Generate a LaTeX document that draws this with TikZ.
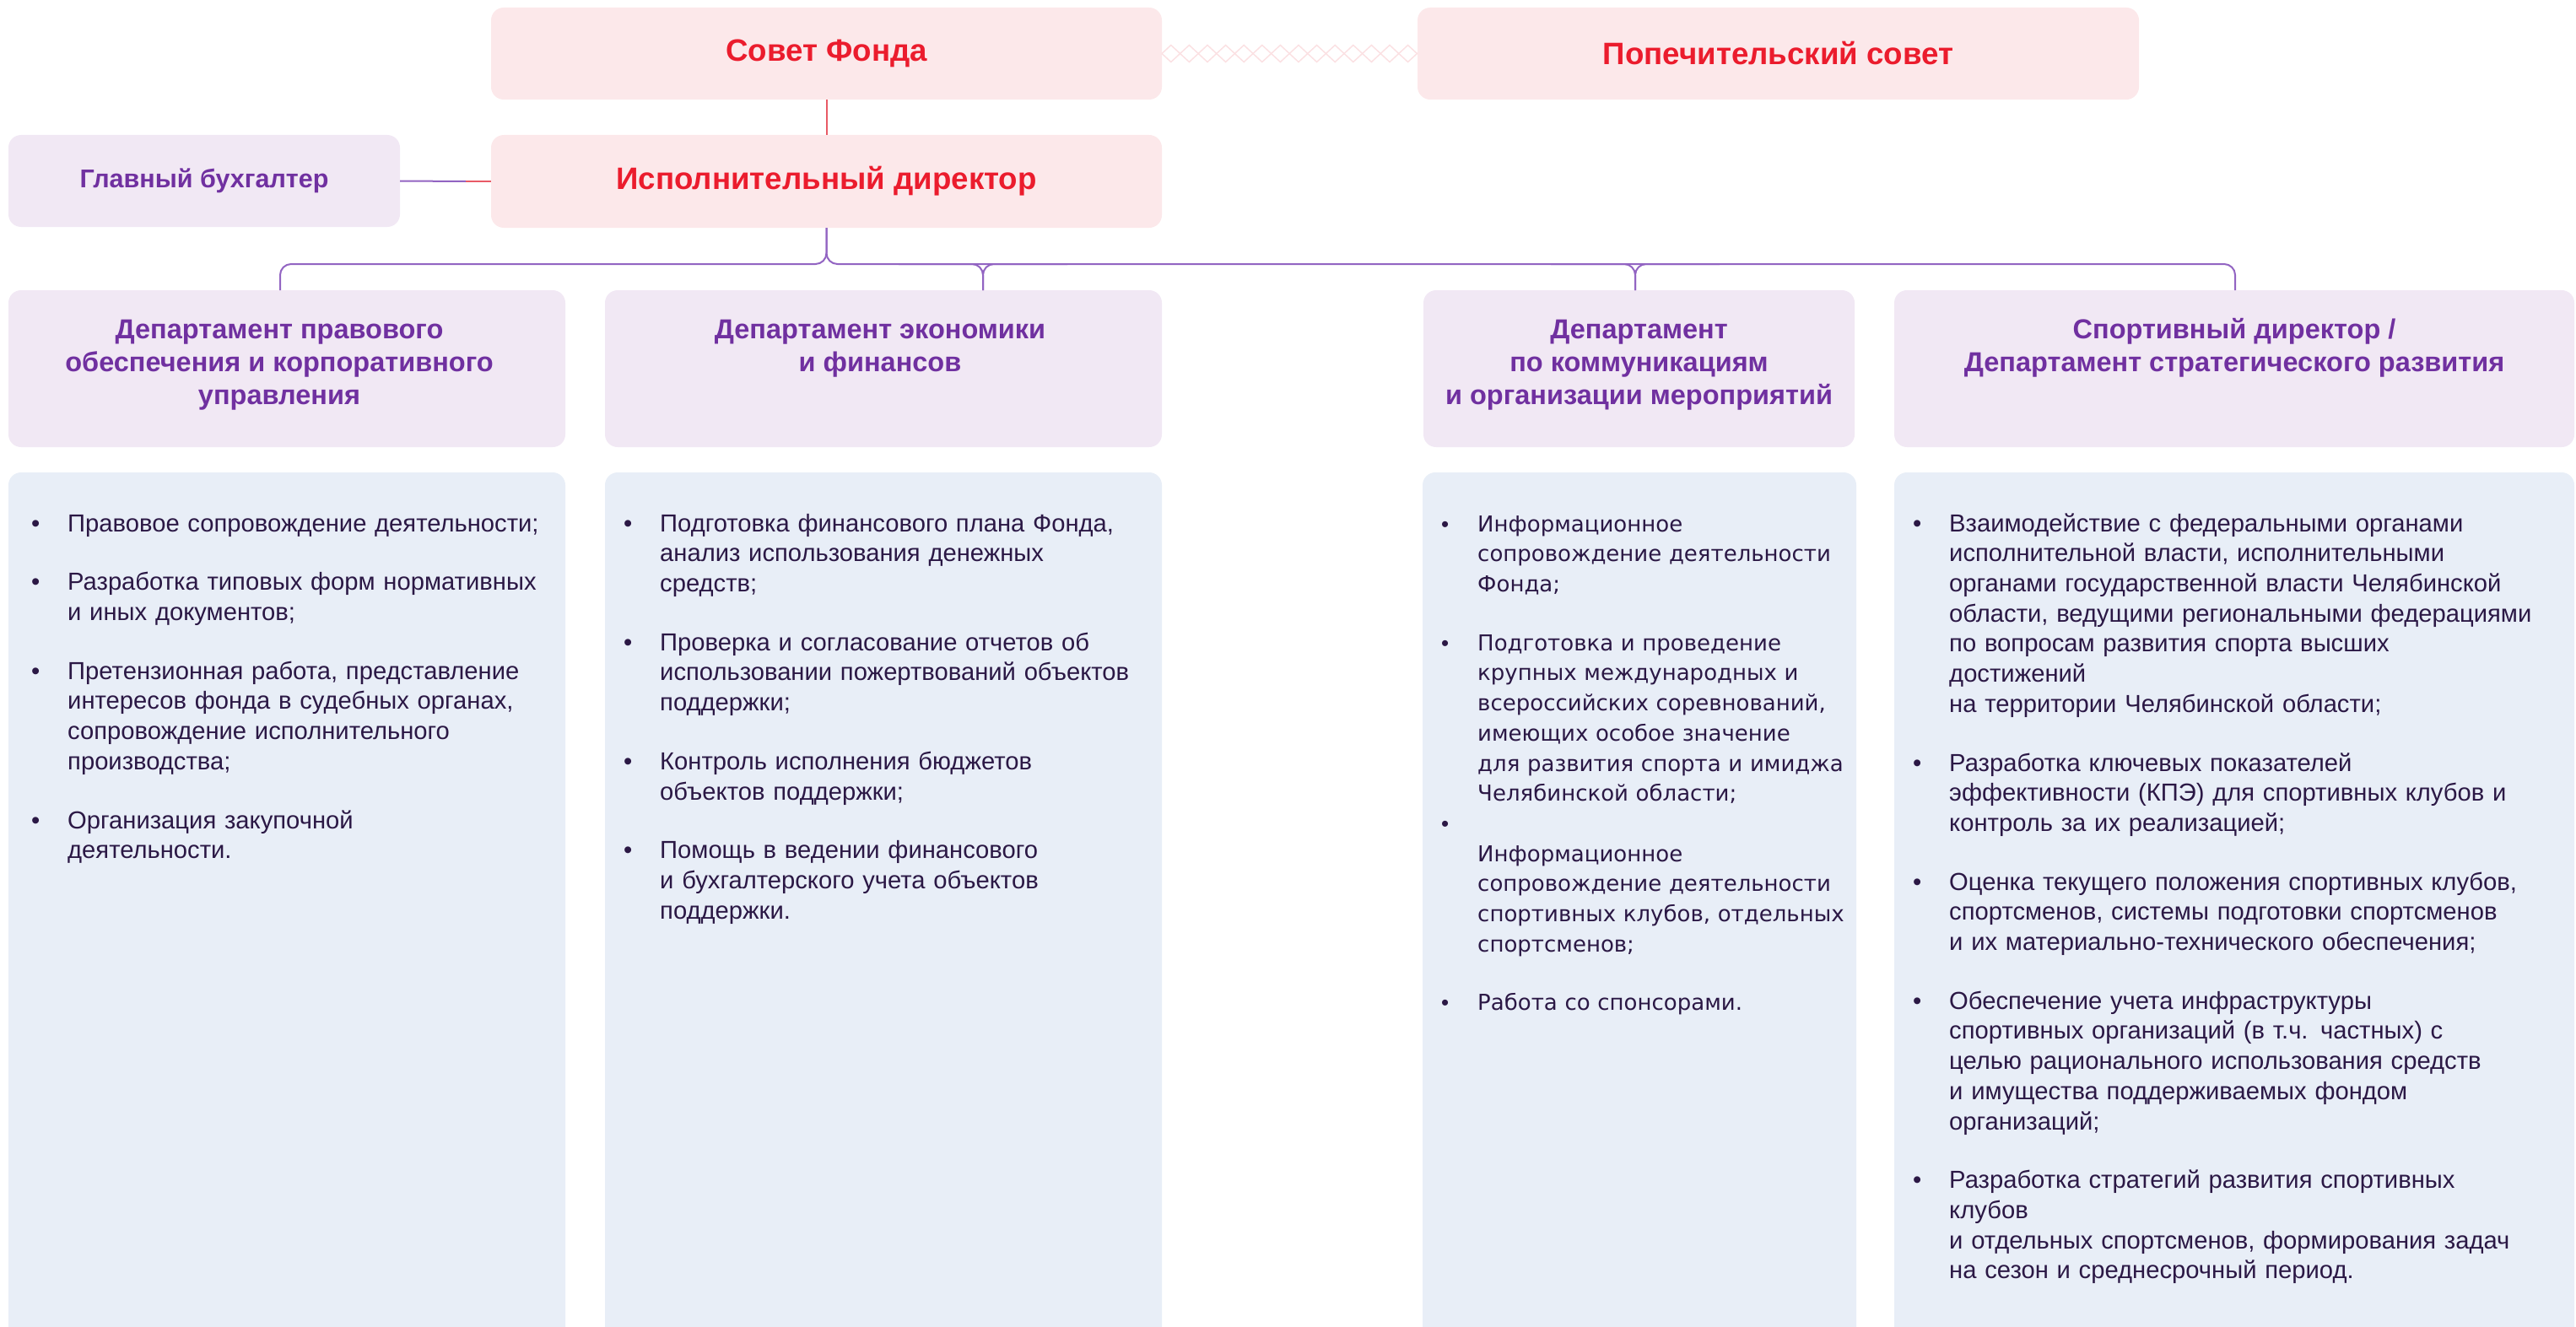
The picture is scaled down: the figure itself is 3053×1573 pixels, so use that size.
\documentclass[tikz,border=0pt]{standalone}
\usepackage{fontspec}
\setmainfont{Liberation Sans}
\newfontfamily\commfont{DejaVu Sans}
\usepackage{tikz}
\usetikzlibrary{positioning}
\usetikzlibrary{decorations.pathmorphing}
\definecolor{pinkbox}{HTML}{FCE8EA}
\definecolor{lavbox}{HTML}{F1E8F4}
\definecolor{bluebox}{HTML}{E8EEF7}
\definecolor{redtext}{HTML}{EB1C2D}
\definecolor{purtext}{HTML}{7030A0}
\definecolor{bodytext}{HTML}{2B1845}
\definecolor{busline}{HTML}{9264C2}
\definecolor{redline}{HTML}{E85A66}
\definecolor{zigline}{HTML}{FBE1E3}
\tikzset{
  box/.style={rectangle,rounded corners=15pt,inner sep=0pt,outer sep=0pt},
  topbox/.style={box,fill=pinkbox,minimum height=109pt,text=redtext,
    font=\fontsize{36.7}{44}\selectfont\bfseries},
  deptbox/.style={box,fill=lavbox,minimum height=186pt},
  listbox/.style={box,fill=bluebox,minimum height=1050pt,anchor=north west},
  headtext/.style={inner sep=0pt,align=center,text=purtext,
    font=\fontsize{32.5}{39}\selectfont\bfseries},
  listtext/.style={inner sep=0pt,anchor=north west,text width=1000pt,text=bodytext,
    font=\fontsize{29.2}{35.7}\selectfont,
    execute at begin node={\setlength{\parskip}{34pt}}},
  bus/.style={draw=busline,line width=2pt,rounded corners=13pt},
  zig/.style={draw=zigline,line width=1.5pt,decorate},
}
\newcommand{\bul}{\noindent\hangindent=47pt\hangafter=1%
  \hbox to 47pt{\hskip4pt\strut{\normalfont\textbullet}\hfil}}

\begin{document}
\begin{tikzpicture}[x=1pt,y=-1pt]
\useasboundingbox (0,0) rectangle (3053,1573);
\clip (0,0) rectangle (3053,1573);
% councils and director
\node (sov) [topbox,minimum width=795pt] at (979.5,63.5) {Совет Фонда};
\node (pop) [topbox,minimum width=855pt] at (2107.5,63.5) {Попечительский совет};
\node (dir) [topbox,minimum width=795pt,minimum height=110pt] at (979.5,215) {Исполнительный директор};
\node (gb) [box,fill=lavbox,minimum width=464pt,minimum height=109pt,text=purtext,
  font=\fontsize{30.5}{39}\selectfont\bfseries] at (242,214.5) {Главный бухгалтер};
%
\draw[zig,decoration={zigzag,segment length=43.2pt,amplitude=10pt}] (sov.east) -- (pop.west);
\draw[zig,decoration={zigzag,segment length=43.2pt,amplitude=10pt,mirror}] (sov.east) -- (pop.west);
\draw[redline,line width=2pt] (sov.south) -- (dir.north);
\draw[busline,line width=2pt] (gb.east) -- ([xshift=-30pt]dir.west);
\draw[redline,line width=2pt] ([xshift=-30pt]dir.west) -- (dir.west);
% departments
\node (d1) [deptbox,minimum width=660pt] at (340,437) {};
\node (d2) [deptbox,minimum width=660pt] at (1047,437) {};
\node (d3) [deptbox,minimum width=511pt] at (1942.5,437) {};
\node (d4) [deptbox,minimum width=806pt] at (2648,437) {};
\node (t1) [headtext,below=29.5pt of d1.north,xshift=-9pt] {\strut Департамент правового\\обеспечения и корпоративного\\управления};
\node (t2) [headtext,below=29.5pt of d2.north,xshift=-4pt] {\strut Департамент экономики\\и финансов};
\node (t3) [headtext,below=29.5pt of d3.north] {\strut Департамент\\по коммуникациям\\и организации мероприятий};
\node (t4) [headtext,below=29.5pt of d4.north] {\strut Спортивный директор /\\Департамент стратегического развития};
% bus
\coordinate (j1) at (332,313);
\coordinate (j2) at (1165,313);
\coordinate (j3) at (1938,313);
\coordinate (j4) at (2649,313);
\draw[bus] (dir.south) -- (dir.south |- j1) -- (j1) -- (j1 |- d1.north);
\draw[bus] (dir.south) -- (dir.south |- j4) -- (j4) -- (j4 |- d4.north);
\draw[bus] ([xshift=-100pt]j2) -- (j2) -- (j2 |- d2.north);
\draw[bus] ([xshift=100pt]j2) -- (j2) -- (j2 |- d2.north);
\draw[bus] ([xshift=-100pt]j3) -- (j3) -- (j3 |- d3.north);
\draw[bus] ([xshift=100pt]j3) -- (j3) -- (j3 |- d3.north);
% task lists
\node (c1) [listbox,minimum width=660pt] at (10,560) {};
\node (c2) [listbox,minimum width=660pt] at (717,560) {};
\node (c3) [listbox,minimum width=514pt] at (1686,560) {};
\node (c4) [listbox,minimum width=806pt] at (2245,560) {};
\node (l1) [listtext] at ([shift={(23,45)}]c1.north west) {%
\bul Правовое сопровождение деятельности;\par
\bul Разработка типовых форм нормативных\newline и иных документов;\par
\bul Претензионная работа, представление\newline интересов фонда в судебных органах,\newline сопровождение исполнительного\newline производства;\par
\bul Организация закупочной\newline деятельности.\par};
\node (l2) [listtext] at ([shift={(18,45)}]c2.north west) {%
\bul Подготовка финансового плана Фонда,\newline анализ использования денежных\newline средств;\par
\bul Проверка и согласование отчетов об\newline использовании пожертвований объектов\newline поддержки;\par
\bul Контроль исполнения бюджетов\newline объектов поддержки;\par
\bul Помощь в ведении финансового\newline и бухгалтерского учета объектов\newline поддержки.\par};
\node (l3) [listtext,font=\commfont\fontsize{26}{35.7}\selectfont] at ([shift={(18,45)}]c3.north west) {%
\bul Информационное\newline сопровождение деятельности\newline Фонда;\par
\bul Подготовка и проведение\newline крупных международных и\newline всероссийских соревнований,\newline имеющих особое значение\newline для развития спорта и имиджа\newline Челябинской области;\par
\vspace{-34pt}\bul\mbox{}\newline Информационное\newline сопровождение деятельности\newline спортивных клубов, отдельных\newline спортсменов;\par
\bul Работа со спонсорами.\par};
\node (l4) [listtext] at ([shift={(18,45)}]c4.north west) {%
\bul Взаимодействие с федеральными органами\newline исполнительной власти, исполнительными\newline органами государственной власти Челябинской\newline области, ведущими региональными федерациями\newline по вопросам развития спорта высших\newline достижений\newline на территории Челябинской области;\par
\bul Разработка ключевых показателей\newline эффективности (КПЭ) для спортивных клубов и\newline контроль за их реализацией;\par
\bul Оценка текущего положения спортивных клубов,\newline спортсменов, системы подготовки спортсменов\newline и их материально-технического обеспечения;\par
\bul Обеспечение учета инфраструктуры\newline спортивных организаций (в т.ч. частных) с\newline целью рационального использования средств\newline и имущества поддерживаемых фондом\newline организаций;\par
\bul Разработка стратегий развития спортивных\newline клубов\newline и отдельных спортсменов, формирования задач\newline на сезон и среднесрочный период.\par};
\end{tikzpicture}
\end{document}
